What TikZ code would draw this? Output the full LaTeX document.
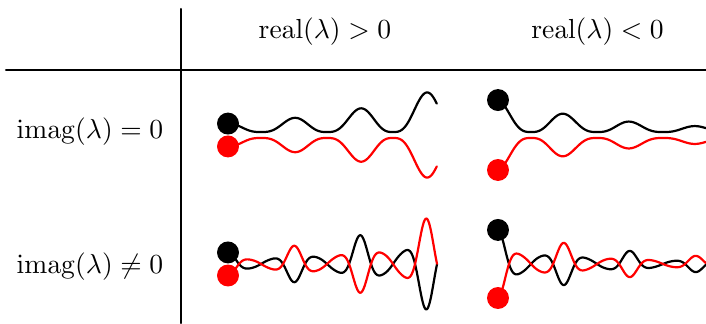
\documentclass[tikz,border=0pt]{standalone}
\usepackage{amsmath,amssymb}
\definecolor{cred}{HTML}{ff0000}

\begin{document}
\begin{tikzpicture}[line cap=round, line join=round, thick,
    declare function={%
      bump(\u)=abs(cos(180*\u/0.842))^3;
      twist(\u)=(0.28+0.72*cos(180*\u/0.842)^4)*cos(540*\u/0.842);}]
  \useasboundingbox (0,0) rectangle (9.005,4.12);
  % ---------- table frame and labels ----------
  \draw (2.309,0) -- (2.309,4.005);
  \draw (0.077,3.227) -- (9.005,3.227);
  \node (hpos) at (4.145,3.712) {$\mathrm{real}(\lambda) > 0$};
  \node (hneg) at (7.621,3.712) {$\mathrm{real}(\lambda) < 0$};
  \node (vzero) at (1.148,2.436) {$\mathrm{imag}(\lambda) = 0$};
  \node (vnonzero) at (1.148,0.714) {$\mathrm{imag}(\lambda) \neq 0$};

  % ---------- real growth ----------
  \begin{scope}[shift={(2.908,2.398)}]
    \def\A{0.108}
    \def\g{0.609}
    \draw plot[domain=0:2.666, samples=200] (\x, {0.038+\A*exp(\g*\x)*bump(\x)});
    \draw[cred] plot[domain=0:2.666, samples=200] (\x, {-0.038-\A*exp(\g*\x)*bump(\x)});
    \fill (0,0.038+\A) circle (0.14);
    \fill[cred] (0,-0.038-\A) circle (0.14);
  \end{scope}

  % ---------- real decay ----------
  \begin{scope}[shift={(6.352,2.398)}]
    \def\A{0.408}
    \def\g{-0.668}
    \draw plot[domain=0:2.653, samples=200] (\x, {0.038+\A*exp(\g*\x)*bump(\x)});
    \draw[cred] plot[domain=0:2.653, samples=200] (\x, {-0.038-\A*exp(\g*\x)*bump(\x)});
    \fill (0,0.038+\A) circle (0.14);
    \fill[cred] (0,-0.038-\A) circle (0.14);
  \end{scope}

  % ---------- complex growth ----------
  \begin{scope}[shift={(2.908,0.753)}]
    \def\A{0.147}
    \def\g{0.543}
    \draw plot[domain=0:2.666, samples=240] (\x, {\A*exp(\g*\x)*twist(\x)});
    \draw[cred] plot[domain=0:2.666, samples=240] (\x, {-\A*exp(\g*\x)*twist(\x)});
    \fill (0,\A) circle (0.14);
    \fill[cred] (0,-\A) circle (0.14);
  \end{scope}

  % ---------- complex decay ----------
  \begin{scope}[shift={(6.352,0.753)}]
    \def\A{0.434}
    \def\g{-0.568}
    \draw plot[domain=0:2.653, samples=240] (\x, {\A*exp(\g*\x)*twist(\x)});
    \draw[cred] plot[domain=0:2.653, samples=240] (\x, {-\A*exp(\g*\x)*twist(\x)});
    \fill (0,\A) circle (0.14);
    \fill[cred] (0,-\A) circle (0.14);
  \end{scope}
\end{tikzpicture}
\end{document}
